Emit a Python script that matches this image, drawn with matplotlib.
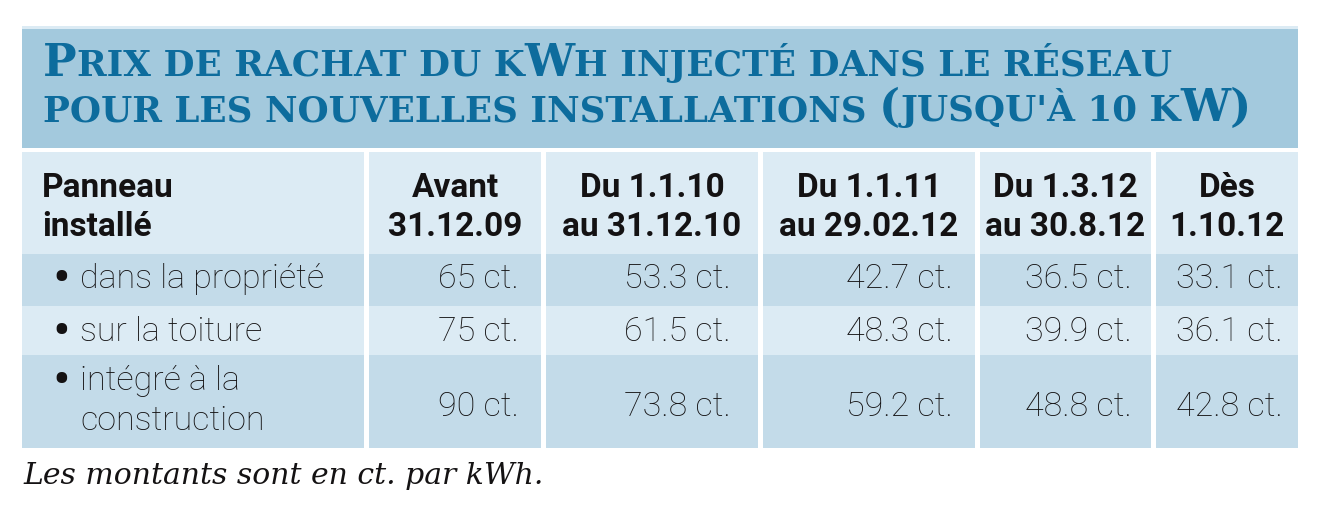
import matplotlib
matplotlib.use("Agg")
import matplotlib.pyplot as plt
from matplotlib.patches import Rectangle

# table content
title_lines = ["Prix de rachat du kWh injecté dans le réseau",
               "pour les nouvelles installations (jusqu'à 10 kW)"]
first_header = ["Panneau", "installé"]
period_labels = [["Avant", "31.12.09"],
                 ["Du 1.1.10", "au 31.12.10"],
                 ["Du 1.1.11", "au 29.02.12"],
                 ["Du 1.3.12", "au 30.8.12"],
                 ["Dès", "1.10.12"]]
panel_types = [["dans la propriété"], ["sur la toiture"], ["intégré à la", "construction"]]
price_propriete = [65, 53.3, 42.7, 36.5, 33.1]
price_toiture = [75, 61.5, 48.3, 39.9, 36.1]
price_integre = [90, 73.8, 59.2, 48.8, 42.8]
footnote = "Les montants sont en ct. par kWh."

prices = [price_propriete, price_toiture, price_integre]

# colours
band_blue = "#a3c9dd"
light_blue = "#dcebf4"
dark_blue = "#c3dbe9"
title_blue = "#0d6c9d"
ink = "#141213"

W, H = 1326, 505
fig = plt.figure(figsize=(W / 100, H / 100), dpi=100)
ax = fig.add_axes([0, 0, 1, 1])
ax.set_xlim(0, W)
ax.set_ylim(H, 0)
ax.axis("off")
renderer = fig.canvas.get_renderer()

# geometry in pixels (1 data unit = 1 px)
col_x = [(22, 364), (369, 541), (546, 758), (763, 975), (980, 1151), (1156, 1298)]
row_y = [(152, 254), (254, 306), (306, 355), (355, 448)]
row_colors = [light_blue, dark_blue, light_blue, dark_blue]
value_right = [519, 731, 953, 1132, 1283]

# title band
ax.add_patch(Rectangle((22, 26), 1276, 3, color=light_blue, lw=0))
ax.add_patch(Rectangle((22, 29), 1276, 119, color=band_blue, lw=0))

# cells
for (y0, y1), c in zip(row_y, row_colors):
    for x0, x1 in col_x:
        ax.add_patch(Rectangle((x0, y0), x1 - x0, y1 - y0, color=c, lw=0))


def width_of(s, **kw):
    t = ax.text(0, 0, "|" + s + "|", **kw)
    w = t.get_window_extent(renderer).width
    t.remove()
    t = ax.text(0, 0, "||", **kw)
    w -= t.get_window_extent(renderer).width
    t.remove()
    return w


def smallcap_runs(line):
    # capitals and brackets full size, everything else as small capitals
    runs = []
    for ch in line:
        big = ch.isupper() or ch in "()"
        if runs and runs[-1][1] == big:
            runs[-1][0] += ch.upper()
        else:
            runs.append([ch.upper(), big])
    return runs


title_font = dict(family="DejaVu Serif", weight="bold", color=title_blue)
big_size = 29.6
small_ratio = 0.8


def line_width(line, k):
    total = 0
    for s, big in smallcap_runs(line):
        size = big_size * k * (1 if big else small_ratio)
        total += width_of(s, fontsize=size, **title_font)
    return total


k = 1129 / line_width(title_lines[0], 1.0)
for line, base in zip(title_lines, [76, 121]):
    x = 43
    for s, big in smallcap_runs(line):
        size = big_size * k * (1 if big else small_ratio)
        ax.text(x, base, s, fontsize=size, ha="left", va="baseline", **title_font)
        x += width_of(s, fontsize=size, **title_font)

# header row
head_font = dict(family="Roboto", weight="bold", fontsize=24, color=ink)
head_base = [197, 236]
for txt, yb in zip(first_header, head_base):
    ax.text(42, yb, txt, ha="left", va="baseline", **head_font)
for (x0, x1), lines in zip(col_x[1:], period_labels):
    for txt, yb in zip(lines, head_base):
        ax.text((x0 + x1) / 2, yb, txt, ha="center", va="baseline", **head_font)

# body rows
body_font = dict(family="Roboto", weight="light", fontsize=24.5, color=ink)
label_bases = [[288], [341], [390, 430]]
value_bases = [288, 341, 416]
for lines, bases, vals, vb in zip(panel_types, label_bases, prices, value_bases):
    ax.text(61, bases[0] + 7, "\u2022", ha="center", va="baseline",
            family="Roboto", fontsize=38, color=ink)
    for txt, yb in zip(lines, bases):
        ax.text(80, yb, txt, ha="left", va="baseline", **body_font)
    for v, xr in zip(vals, value_right):
        ax.text(xr, vb, f"{v:g} ct.", ha="right", va="baseline", **body_font)

# footnote
foot_font = dict(family="DejaVu Serif", style="italic", color=ink)
fsize = 20 * 520 / width_of(footnote, fontsize=20, **foot_font)
ax.text(23, 484, footnote, fontsize=fsize, ha="left", va="baseline", **foot_font)

fig.savefig("out.png", dpi=100)
